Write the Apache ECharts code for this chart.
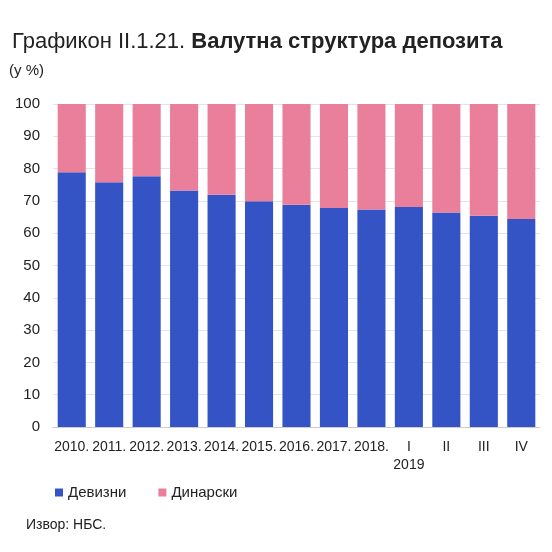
<!DOCTYPE html>
<html>
<head>
<meta charset="utf-8">
<script src="https://cdn.jsdelivr.net/npm/echarts@6/dist/echarts.min.js"></script>
<style>
html,body{margin:0;padding:0;background:#fff;}
#container{width:552px;height:552px;}
</style>
</head>
<body>
<div id="container"></div>
<script>
var categories=['2010.','2011.','2012.','2013.','2014.','2015.','2016.','2017.','2018.','I\n2019','II','III','IV'];
var devizni=[78.9,75.8,77.6,73.2,71.9,69.9,68.8,67.8,67.3,68.1,66.4,65.4,64.4];
var dinarski=[];
for(var i=0;i<devizni.length;i++){
	dinarski.push(+(100-devizni[i]).toFixed(1));
}
var yTicks=[0,10,20,30,40,50,60,70,80,90,100];

var fontName='"Liberation Sans", Arial, sans-serif';
var option={
	animation:false,
	title:[{
		text:'{n|Графикон II.1.21. }{b|Валутна структура депозита}',
		left:7,
		top:26,
		textStyle:{
			rich:{
				n:{fontFamily:fontName,fontSize:22,fontWeight:'normal',color:'#222'},
				b:{fontFamily:fontName,fontSize:22,fontWeight:'bold',color:'#222'}
			}
		}
	},{
		text:'(у %)',
		left:4,
		top:58,
		textStyle:{fontFamily:fontName,fontSize:15,fontWeight:'normal',color:'#222'}
	},{
		text:'Извор: НБС.',
		left:21,
		top:513,
		textStyle:{fontFamily:fontName,fontSize:14,fontWeight:'normal',color:'#222'}
	}],
	legend:{
		left:50,
		top:480,
		itemWidth:8,
		itemHeight:8,
		itemGap:32,
		icon:'rect',
		textStyle:{fontFamily:fontName,fontSize:15,color:'#222'},
		data:['Девизни','Динарски']
	},
	grid:{
		left:53,
		right:12,
		top:104,
		bottom:125
	},
	xAxis:{
		type:'category',
		data:categories,
		axisTick:{show:false},
		axisLine:{lineStyle:{color:'#ccc'}},
		axisLabel:{interval:0,fontFamily:fontName,fontSize:14,color:'#222',margin:11,lineHeight:18}
	},
	yAxis:{
		type:'value',
		min:0,
		max:100,
		interval:10,
		axisLine:{show:false},
		axisTick:{show:false},
		splitLine:{lineStyle:{color:'#e4e4e4'}},
		axisLabel:{
			fontFamily:fontName,fontSize:15,color:'#222',margin:13,
			formatter:function(v){return yTicks.indexOf(v)>=0?String(v):'';}
		}
	},
	series:[{
		name:'Девизни',
		type:'bar',
		stack:'s',
		barCategoryGap:'25%',
		itemStyle:{color:'#3454c6'},
		data:devizni
	},{
		name:'Динарски',
		type:'bar',
		stack:'s',
		itemStyle:{color:'#ea7f9b'},
		data:dinarski
	}]
};
var mychart=echarts.init(document.getElementById('container'));
mychart.setOption(option);
</script>
</body>
</html>
